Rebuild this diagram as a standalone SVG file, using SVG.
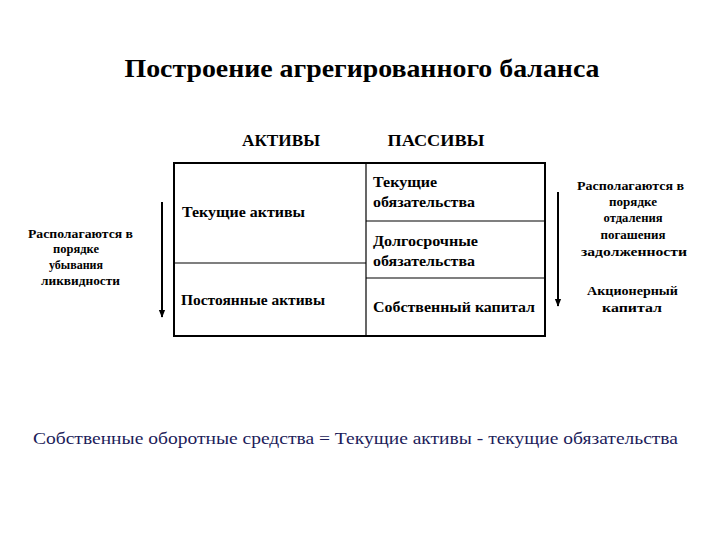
<svg xmlns="http://www.w3.org/2000/svg" width="720" height="540" viewBox="0 0 720 540">
<style>
text{font-family:'Liberation Serif',serif}
.title{font-size:26px;font-weight:bold}
.head{font-size:16px;font-weight:bold}
.cell{font-size:15px;font-weight:bold}
.note{font-size:12px;font-weight:bold;text-anchor:middle}
.formula{font-size:16px;fill:#1c1c5a}
.frame{fill:none;stroke:#000;stroke-width:2}
.div{stroke:#000;stroke-width:1.2}
.arr{stroke:#000;stroke-width:2;fill:none}
</style>
<defs>
<marker id="ah" viewBox="0 0 10 10" refX="9" refY="5" markerWidth="4" markerHeight="4" orient="auto" markerUnits="strokeWidth">
<path d="M0,1 L10,5 L0,9 Z" fill="#000"/>
</marker>
</defs>
<rect width="720" height="540" fill="#fff"/>
<g id="title"><text class="title" font-family="'Liberation Serif', serif" x="362" y="77" text-anchor="middle" textLength="475" lengthAdjust="spacingAndGlyphs">Построение агрегированного баланса</text></g>
<g id="headers">
<text class="head" font-family="'Liberation Serif', serif" x="281" y="146" text-anchor="middle" textLength="78" lengthAdjust="spacingAndGlyphs">АКТИВЫ</text>
<text class="head" font-family="'Liberation Serif', serif" x="436" y="146" text-anchor="middle" textLength="97" lengthAdjust="spacingAndGlyphs">ПАССИВЫ</text>
</g>
<g id="table">
<rect class="frame" x="174" y="163" width="371" height="173"/>
<line class="div" x1="366" y1="163" x2="366" y2="336"/>
<line class="div" x1="174" y1="263" x2="366" y2="263"/>
<line class="div" x1="366" y1="221" x2="545" y2="221"/>
<line class="div" x1="366" y1="278" x2="545" y2="278"/>
</g>
<g id="current-assets"><text class="cell" font-family="'Liberation Serif', serif" x="182" y="217" textLength="123" lengthAdjust="spacingAndGlyphs">Текущие активы</text></g>
<g id="fixed-assets"><text class="cell" font-family="'Liberation Serif', serif" x="181" y="305" textLength="144" lengthAdjust="spacingAndGlyphs">Постоянные активы</text></g>
<g id="current-liab"><text class="cell" font-family="'Liberation Serif', serif" x="373" y="187" textLength="64" lengthAdjust="spacingAndGlyphs">Текущие</text><text class="cell" font-family="'Liberation Serif', serif" x="373" y="207" textLength="102" lengthAdjust="spacingAndGlyphs">обязательства</text></g>
<g id="long-liab"><text class="cell" font-family="'Liberation Serif', serif" x="373" y="246" textLength="105" lengthAdjust="spacingAndGlyphs">Долгосрочные</text><text class="cell" font-family="'Liberation Serif', serif" x="373" y="266" textLength="102" lengthAdjust="spacingAndGlyphs">обязательства</text></g>
<g id="equity"><text class="cell" font-family="'Liberation Serif', serif" x="373" y="312" textLength="162" lengthAdjust="spacingAndGlyphs">Собственный капитал</text></g>
<g id="left-note">
<text class="note" font-family="'Liberation Serif', serif" x="80.5" y="238" textLength="105" lengthAdjust="spacingAndGlyphs">Располагаются в</text>
<text class="note" font-family="'Liberation Serif', serif" x="76" y="253" textLength="46" lengthAdjust="spacingAndGlyphs">порядке</text>
<text class="note" font-family="'Liberation Serif', serif" x="76" y="269" textLength="54" lengthAdjust="spacingAndGlyphs">убывания</text>
<text class="note" font-family="'Liberation Serif', serif" x="80.5" y="285" textLength="79" lengthAdjust="spacingAndGlyphs">ликвидности</text>
</g>
<g id="right-note">
<text class="note" font-family="'Liberation Serif', serif" x="630.5" y="190" textLength="107" lengthAdjust="spacingAndGlyphs">Располагаются в</text>
<text class="note" font-family="'Liberation Serif', serif" x="633" y="206" textLength="48" lengthAdjust="spacingAndGlyphs">порядке</text>
<text class="note" font-family="'Liberation Serif', serif" x="633" y="222" textLength="59" lengthAdjust="spacingAndGlyphs">отдаления</text>
<text class="note" font-family="'Liberation Serif', serif" x="633" y="239" textLength="65" lengthAdjust="spacingAndGlyphs">погашения</text>
<text class="note" font-family="'Liberation Serif', serif" x="634" y="256" textLength="106" lengthAdjust="spacingAndGlyphs">задолженности</text>
<text class="note" font-family="'Liberation Serif', serif" x="632.5" y="295" textLength="91" lengthAdjust="spacingAndGlyphs">Акционерный</text>
<text class="note" font-family="'Liberation Serif', serif" x="632" y="312" textLength="60" lengthAdjust="spacingAndGlyphs">капитал</text>
</g>
<g id="formula"><text class="formula" font-family="'Liberation Serif', serif" x="33" y="444" textLength="645" lengthAdjust="spacingAndGlyphs">Собственные оборотные средства = Текущие активы  -  текущие обязательства</text></g>
<g id="connectors">
<line class="arr" x1="162" y1="202" x2="162" y2="317" marker-end="url(#ah)"/>
<line class="arr" x1="558" y1="192" x2="558" y2="306" marker-end="url(#ah)"/>
</g>
</svg>
